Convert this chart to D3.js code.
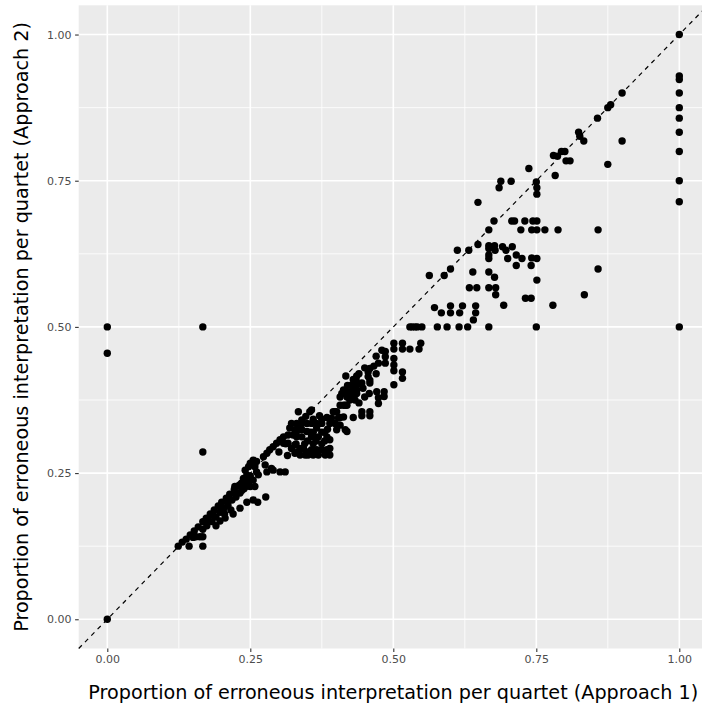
<!DOCTYPE html>
<html>
<head>
<meta charset="utf-8">
<script src="https://cdn.jsdelivr.net/npm/d3@7/dist/d3.min.js"></script>
<style>
  html, body { margin: 0; padding: 0; background: #ffffff; }
  svg { display: block; }
</style>
</head>
<body>
<svg id="chart" width="702" height="708"></svg>
<script>
// Axis ticks
const tickValues = [0, 0.25, 0.5, 0.75, 1];
const tickLabels = ["0.00", "0.25", "0.50", "0.75", "1.00"];
const minorTicks = [0.125, 0.375, 0.625, 0.875];

const xTitle = "Proportion of erroneous interpretation per quartet (Approach 1)";
const yTitle = "Proportion of erroneous interpretation per quartet (Approach 2)";

// Quartets: [approach 1 proportion, approach 2 proportion]
const isolated = [
  [0, 0], [0, 0.5], [0, 0.455], [0.167, 0.5], [0.167, 0.286]
];

const lowBand = [
  [0.124, 0.125], [0.131, 0.132], [0.138, 0.137], [0.143, 0.125], [0.145, 0.144],
  [0.152, 0.151], [0.155, 0.141], [0.159, 0.158], [0.167, 0.154], [0.167, 0.125],
  [0.167, 0.141], [0.167, 0.167], [0.173, 0.173], [0.174, 0.16], [0.18, 0.18],
  [0.183, 0.167], [0.187, 0.187], [0.19, 0.175], [0.194, 0.194], [0.197, 0.183],
  [0.197, 0.168], [0.2, 0.2], [0.204, 0.19], [0.208, 0.207], [0.211, 0.195],
  [0.214, 0.214], [0.218, 0.204], [0.22, 0.18], [0.222, 0.222], [0.225, 0.209],
  [0.229, 0.228], [0.232, 0.216], [0.232, 0.19], [0.235, 0.233], [0.239, 0.223],
  [0.242, 0.24], [0.244, 0.2], [0.246, 0.228], [0.25, 0.245], [0.255, 0.204],
  [0.263, 0.2], [0.277, 0.209], [0.216, 0.187], [0.206, 0.173], [0.162, 0.141],
  [0.185, 0.178], [0.2, 0.185], [0.21, 0.2], [0.225, 0.215], [0.235, 0.22],
  [0.245, 0.235], [0.19, 0.16], [0.205, 0.18], [0.15, 0.14], [0.176, 0.17]
];

const midBand = [
  [0.223, 0.227], [0.232, 0.23], [0.241, 0.227], [0.25, 0.227], [0.258, 0.227],
  [0.238, 0.241], [0.244, 0.247], [0.255, 0.238], [0.241, 0.255], [0.247, 0.261],
  [0.25, 0.267], [0.258, 0.261], [0.255, 0.272], [0.261, 0.27], [0.264, 0.247],
  [0.261, 0.252], [0.273, 0.278], [0.276, 0.264], [0.279, 0.284], [0.279, 0.252],
  [0.284, 0.29], [0.287, 0.258], [0.29, 0.295], [0.29, 0.255], [0.296, 0.301],
  [0.302, 0.307], [0.302, 0.252], [0.311, 0.252], [0.308, 0.312], [0.308, 0.301],
  [0.316, 0.315], [0.316, 0.301], [0.325, 0.315], [0.328, 0.298], [0.331, 0.312],
  [0.322, 0.292], [0.328, 0.284], [0.337, 0.292], [0.337, 0.281], [0.343, 0.292],
  [0.346, 0.281], [0.34, 0.312], [0.351, 0.281], [0.357, 0.312], [0.357, 0.29],
  [0.36, 0.281], [0.366, 0.29], [0.369, 0.312], [0.369, 0.281], [0.375, 0.29],
  [0.381, 0.281], [0.384, 0.312], [0.384, 0.29], [0.389, 0.307], [0.389, 0.292],
  [0.389, 0.281],
  [0.322, 0.335], [0.331, 0.335], [0.34, 0.335], [0.349, 0.335], [0.357, 0.335],
  [0.366, 0.335], [0.375, 0.335], [0.319, 0.327], [0.328, 0.324], [0.337, 0.327],
  [0.366, 0.327], [0.331, 0.321], [0.34, 0.324], [0.349, 0.321], [0.334, 0.355],
  [0.354, 0.355], [0.357, 0.358], [0.371, 0.348], [0.34, 0.341], [0.347, 0.347],
  [0.389, 0.335], [0.398, 0.335], [0.392, 0.344], [0.404, 0.344], [0.413, 0.346],
  [0.407, 0.332], [0.401, 0.324], [0.416, 0.324], [0.419, 0.321], [0.398, 0.355],
  [0.401, 0.355], [0.407, 0.366], [0.416, 0.366], [0.424, 0.375], [0.433, 0.375],
  [0.41, 0.386], [0.419, 0.386], [0.427, 0.386], [0.436, 0.386],
  [0.33, 0.3], [0.345, 0.3], [0.36, 0.3], [0.375, 0.3], [0.35, 0.305], [0.365, 0.305],
  [0.38, 0.305], [0.355, 0.32], [0.36, 0.32], [0.375, 0.32], [0.38, 0.32],
  [0.333, 0.286], [0.35, 0.286], [0.312, 0.3], [0.3, 0.286], [0.315, 0.28],
  [0.36, 0.342], [0.375, 0.342], [0.385, 0.325]
];

const upperBand = [
  [0.501, 0.472], [0.516, 0.472], [0.548, 0.472],
  [0.501, 0.462], [0.516, 0.462], [0.529, 0.462], [0.545, 0.462],
  [0.486, 0.458], [0.486, 0.449], [0.486, 0.438], [0.501, 0.446], [0.501, 0.435],
  [0.501, 0.425], [0.474, 0.438], [0.466, 0.433], [0.459, 0.429], [0.456, 0.423],
  [0.456, 0.415], [0.459, 0.409], [0.459, 0.404], [0.516, 0.423], [0.516, 0.412],
  [0.501, 0.401], [0.417, 0.416], [0.436, 0.416], [0.435, 0.409], [0.445, 0.404],
  [0.438, 0.402], [0.428, 0.401], [0.413, 0.392], [0.419, 0.389], [0.424, 0.389],
  [0.43, 0.392], [0.436, 0.392], [0.447, 0.395], [0.458, 0.386], [0.471, 0.389],
  [0.484, 0.389], [0.474, 0.379], [0.474, 0.369], [0.484, 0.381], [0.407, 0.38],
  [0.419, 0.38], [0.43, 0.38], [0.413, 0.366], [0.419, 0.366], [0.395, 0.355],
  [0.445, 0.355], [0.459, 0.355], [0.445, 0.348], [0.459, 0.348], [0.384, 0.345],
  [0.407, 0.345], [0.43, 0.345],
  [0.44, 0.42], [0.45, 0.43], [0.47, 0.45], [0.48, 0.46], [0.47, 0.42], [0.44, 0.37],
  [0.45, 0.38], [0.42, 0.4], [0.43, 0.41]
];

const spread = [
  [0.529, 0.5], [0.533, 0.5], [0.538, 0.5], [0.542, 0.5], [0.55, 0.5], [0.577, 0.5],
  [0.594, 0.5], [0.615, 0.5], [0.63, 0.5], [0.667, 0.5], [0.75, 0.5],
  [0.572, 0.533], [0.6, 0.536], [0.621, 0.536], [0.644, 0.536],
  [0.584, 0.524], [0.6, 0.524], [0.616, 0.524], [0.644, 0.524], [0.64, 0.512],
  [0.693, 0.537], [0.779, 0.537], [0.731, 0.549], [0.741, 0.549],
  [0.679, 0.555], [0.834, 0.555], [0.633, 0.567], [0.646, 0.567], [0.667, 0.567],
  [0.679, 0.567], [0.751, 0.58], [0.677, 0.585], [0.639, 0.594], [0.667, 0.594],
  [0.563, 0.588], [0.589, 0.588], [0.6, 0.599], [0.858, 0.599],
  [0.7, 0.617], [0.715, 0.623], [0.725, 0.617], [0.742, 0.618], [0.751, 0.617],
  [0.715, 0.605], [0.741, 0.605], [0.667, 0.634], [0.667, 0.623], [0.667, 0.617],
  [0.678, 0.631], [0.697, 0.631], [0.612, 0.631], [0.632, 0.631],
  [0.648, 0.641], [0.667, 0.639], [0.677, 0.639], [0.691, 0.637], [0.708, 0.637],
  [0.667, 0.666], [0.723, 0.666], [0.742, 0.666], [0.751, 0.666], [0.765, 0.666],
  [0.788, 0.666], [0.858, 0.666],
  [0.676, 0.681], [0.707, 0.681], [0.712, 0.681], [0.73, 0.681], [0.744, 0.681],
  [0.751, 0.681], [0.648, 0.713],
  [0.75, 0.748], [0.751, 0.738], [0.751, 0.727], [0.688, 0.749], [0.706, 0.749],
  [0.685, 0.738], [0.737, 0.771], [0.783, 0.759],
  [0.794, 0.8], [0.8, 0.8], [0.78, 0.793], [0.787, 0.792], [0.802, 0.784], [0.809, 0.784],
  [0.824, 0.833], [0.826, 0.826], [0.833, 0.818], [0.857, 0.857], [0.875, 0.875],
  [0.88, 0.88], [0.9, 0.9], [0.9, 0.818], [0.875, 0.778]
];

const fullColumn = [
  [1, 1], [1, 0.929], [1, 0.923], [1, 0.9], [1, 0.875], [1, 0.857], [1, 0.833],
  [1, 0.8], [1, 0.75], [1, 0.714], [1, 0.5]
];

const points = [].concat(isolated, lowBand, midBand, upperBand, spread, fullColumn);

// Panel geometry
const svg = d3.select("#chart");
const panel = { left: 78.7, right: 707.9, top: 5.3, bottom: 648.5 };

const x = d3.scaleLinear().domain([-0.05, 1.05]).range([panel.left, panel.right]);
const y = d3.scaleLinear().domain([-0.05, 1.05]).range([panel.bottom, panel.top]);

svg.append("rect")
  .attr("x", panel.left).attr("y", panel.top)
  .attr("width", panel.right - panel.left).attr("height", panel.bottom - panel.top)
  .attr("fill", "#EBEBEB");

const grid = svg.append("g");
grid.selectAll("line.vminor").data(minorTicks).join("line")
  .attr("x1", d => x(d)).attr("x2", d => x(d))
  .attr("y1", panel.top).attr("y2", panel.bottom)
  .attr("stroke", "#ffffff").attr("stroke-width", 0.8);
grid.selectAll("line.hminor").data(minorTicks).join("line")
  .attr("y1", d => y(d)).attr("y2", d => y(d))
  .attr("x1", panel.left).attr("x2", panel.right)
  .attr("stroke", "#ffffff").attr("stroke-width", 0.8);
grid.selectAll("line.vmajor").data(tickValues).join("line")
  .attr("x1", d => x(d)).attr("x2", d => x(d))
  .attr("y1", panel.top).attr("y2", panel.bottom)
  .attr("stroke", "#ffffff").attr("stroke-width", 1.6);
grid.selectAll("line.hmajor").data(tickValues).join("line")
  .attr("y1", d => y(d)).attr("y2", d => y(d))
  .attr("x1", panel.left).attr("x2", panel.right)
  .attr("stroke", "#ffffff").attr("stroke-width", 1.6);

// Points
svg.append("g").selectAll("circle").data(points).join("circle")
  .attr("cx", d => x(d[0]))
  .attr("cy", d => y(d[1]))
  .attr("r", 3.7)
  .attr("fill", "#000000");

// Identity reference line y = x across the panel
svg.append("line")
  .attr("x1", x(-0.05)).attr("y1", y(-0.05))
  .attr("x2", x(1.05)).attr("y2", y(1.05))
  .attr("stroke", "#000000").attr("stroke-width", 1.2)
  .attr("stroke-dasharray", "4.5,4.5");

// Axes
const fmt = d => tickLabels[tickValues.indexOf(d)];
const xAxis = svg.append("g")
  .attr("transform", `translate(0,${panel.bottom})`)
  .call(d3.axisBottom(x).tickValues(tickValues).tickFormat(fmt).tickSize(3.6).tickPadding(3.5));
const yAxis = svg.append("g")
  .attr("transform", `translate(${panel.left},0)`)
  .call(d3.axisLeft(y).tickValues(tickValues).tickFormat(fmt).tickSize(3.6).tickPadding(3.5));

[xAxis, yAxis].forEach(a => {
  a.select(".domain").remove();
  a.selectAll(".tick line").attr("stroke", "#333333").attr("stroke-width", 1.1);
  a.selectAll(".tick text")
    .attr("fill", "#4D4D4D")
    .style("font-size", "11px")
    .style("font-family", "'DejaVu Sans', sans-serif");
});

// Axis titles
svg.append("text")
  .attr("x", (panel.left + panel.right) / 2)
  .attr("y", 698.5)
  .attr("text-anchor", "middle")
  .style("font-family", "'DejaVu Sans', sans-serif")
  .style("font-size", "19.2px")
  .attr("fill", "#000000")
  .text(xTitle);

svg.append("text")
  .attr("transform", `translate(28,${(panel.top + panel.bottom) / 2}) rotate(-90)`)
  .attr("text-anchor", "middle")
  .style("font-family", "'DejaVu Sans', sans-serif")
  .style("font-size", "19.2px")
  .attr("fill", "#000000")
  .text(yTitle);
</script>
</body>
</html>
